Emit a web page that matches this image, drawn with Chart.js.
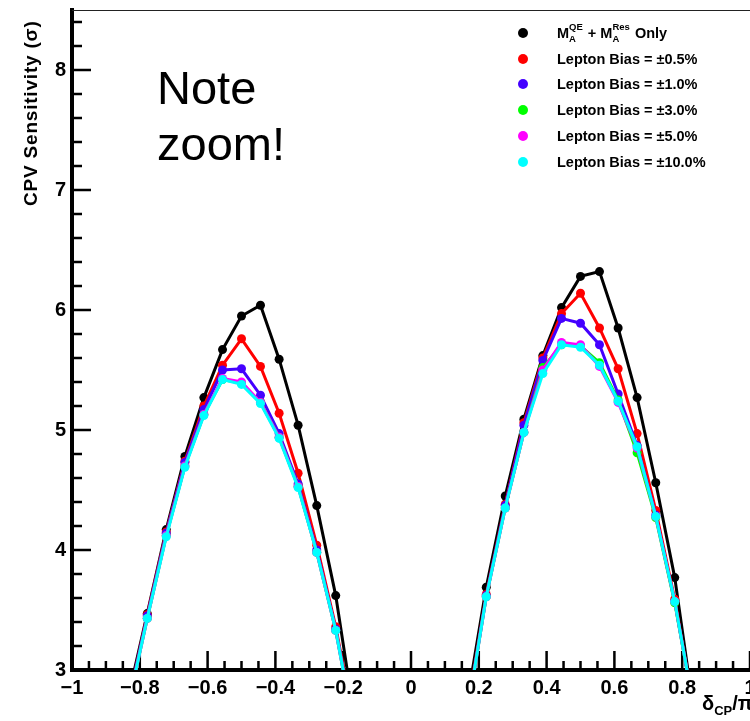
<!DOCTYPE html>
<html>
<head>
<meta charset="utf-8">
<script src="https://cdn.jsdelivr.net/npm/chart.js@4.4.0/dist/chart.umd.min.js"></script>
<style>
  body { margin: 0; background: #fff; }
  #wrap { position: relative; width: 750px; height: 721px; overflow: hidden; font-family: "Liberation Sans", Arial, sans-serif; }
  #note { position: absolute; left: 157px; top: 60px; font-size: 47px; line-height: 56px; color: #000; }
  #legend { position: absolute; left: 518px; top: 20px; font-size: 14.5px; font-weight: bold; color: #000; }
  .row { position: relative; height: 25.8px; display: flex; align-items: center; white-space: nowrap; }
  .dot { width: 10px; height: 10px; border-radius: 50%; margin-right: 29px; flex: none; }
  .ss { display: inline-flex; flex-direction: column; font-size: 9.5px; line-height: 12px; vertical-align: 8px; margin-right: 1px; }
  #ytitle { position: absolute; left: 20px; top: 206px; width: 188px; transform: rotate(-90deg); transform-origin: left top;
            font-size: 19px; line-height: 22px; font-weight: bold; letter-spacing: 0.8px; white-space: nowrap; }
  #xtitle { position: absolute; left: 702px; top: 692px; font-size: 20px; font-weight: bold; white-space: nowrap; }
  #xtitle sub { font-size: 13px; vertical-align: -5px; }
</style>
</head>
<body>
<div id="wrap">
  <canvas id="cpv" width="750" height="721"></canvas>
  <div id="note">Note<br>zoom!</div>
  <div id="legend"></div>
  <div id="ytitle">CPV Sensitivity (&sigma;)</div>
  <div id="xtitle">&delta;<sub>CP</sub>/&pi;</div>
</div>
<script>
// delta_CP / pi, 10 degree steps; the gap at 0 is below the plotted range
const deltaCP = [-0.833, -0.778, -0.722, -0.667, -0.611, -0.556, -0.5, -0.444, -0.389, -0.333, -0.278, -0.222, -0.167,
                 0,
                 0.167, 0.222, 0.278, 0.333, 0.389, 0.444, 0.5, 0.556, 0.611, 0.667, 0.722, 0.778, 0.833];

const maOnly = [2.79, 3.47, 4.17, 4.78, 5.27, 5.67, 5.95, 6.04, 5.59, 5.04, 4.37, 3.62, 2.61,
                null,
                2.76, 3.69, 4.45, 5.09, 5.62, 6.02, 6.28, 6.32, 5.85, 5.27, 4.56, 3.77, 2.68];
const bias05 = [2.74, 3.46, 4.15, 4.74, 5.20, 5.54, 5.76, 5.53, 5.14, 4.64, 4.04, 3.36, 2.55,
                null,
                2.68, 3.63, 4.38, 5.06, 5.60, 5.97, 6.14, 5.85, 5.51, 4.97, 4.33, 3.59, 2.70];
const bias10 = [2.74, 3.45, 4.14, 4.73, 5.17, 5.50, 5.51, 5.29, 4.97, 4.55, 4.00, 3.34, 2.52,
                null,
                2.66, 3.62, 4.37, 5.04, 5.58, 5.93, 5.89, 5.71, 5.30, 4.87, 4.29, 3.57, 2.70];
const bias30 = [2.72, 3.43, 4.12, 4.70, 5.13, 5.42, 5.39, 5.23, 4.94, 4.53, 3.98, 3.33, 2.50,
                null,
                2.65, 3.61, 4.35, 4.98, 5.52, 5.71, 5.70, 5.56, 5.25, 4.81, 4.27, 3.56, 2.70];
const bias50 = [2.72, 3.43, 4.12, 4.70, 5.13, 5.43, 5.40, 5.23, 4.94, 4.53, 3.98, 3.33, 2.50,
                null,
                2.65, 3.61, 4.35, 4.98, 5.50, 5.73, 5.71, 5.53, 5.23, 4.85, 4.28, 3.57, 2.70];
const bias100 = [2.72, 3.43, 4.11, 4.69, 5.12, 5.42, 5.38, 5.22, 4.93, 4.52, 3.98, 3.33, 2.50,
                 null,
                 2.65, 3.61, 4.35, 4.98, 5.47, 5.71, 5.69, 5.54, 5.24, 4.86, 4.28, 3.57, 2.70];

const seriesValues = [maOnly, bias05, bias10, bias30, bias50, bias100];
const seriesLabels = [
  'M<span class="ss"><span>QE</span><span>A</span></span> + M<span class="ss"><span>Res</span><span>A</span></span> Only',
  'Lepton Bias = &plusmn;0.5%',
  'Lepton Bias = &plusmn;1.0%',
  'Lepton Bias = &plusmn;3.0%',
  'Lepton Bias = &plusmn;5.0%',
  'Lepton Bias = &plusmn;10.0%'
];
const seriesColors = ['#000000', '#ff0000', '#4400ff', '#00ff00', '#ff00ff', '#00ffff'];

const FONT = '"Liberation Sans", Arial, sans-serif';
Chart.defaults.font.family = FONT;

// legend in html so the super/subscripts render
const legend = document.getElementById('legend');
seriesLabels.forEach((label, i) => {
  const row = document.createElement('div');
  row.className = 'row';
  row.innerHTML = '<span class="dot" style="background:' + seriesColors[i] + '"></span><span>' + label + '</span>';
  legend.appendChild(row);
});

function minusLabel(v) {
  const r = Math.round(v * 10) / 10;
  return r < 0 ? '\u2212' + Math.abs(r) : String(r);
}

// ROOT style inward ticks plus thin top frame
const axisTicks = {
  id: 'axisTicks',
  beforeDatasetsDraw(chart) {
    const { ctx, chartArea: a, scales: { x, y } } = chart;
    ctx.save();
    ctx.strokeStyle = '#000';
    ctx.lineWidth = 2.5;
    ctx.beginPath();
    for (let i = 0; i <= 40; i++) {
      const px = x.getPixelForValue(-1 + i * 0.05);
      const len = i % 4 === 0 ? 19 : 9;
      ctx.moveTo(px, a.bottom);
      ctx.lineTo(px, a.bottom - len);
    }
    for (let i = 0; i <= 27; i++) {
      const py = y.getPixelForValue(3 + i * 0.2);
      const len = i % 5 === 0 ? 19 : 10;
      ctx.moveTo(a.left, py);
      ctx.lineTo(a.left + len, py);
    }
    ctx.stroke();
    ctx.lineWidth = 1;
    ctx.strokeStyle = '#222';
    ctx.beginPath();
    ctx.moveTo(a.left, a.top + 0.5);
    ctx.lineTo(a.right, a.top + 0.5);
    ctx.stroke();
    ctx.restore();
  }
};

const datasets = seriesValues.map((vals, i) => ({
  label: seriesLabels[i],
  data: deltaCP.map((d, j) => ({ x: d, y: vals[j] })),
  borderColor: seriesColors[i],
  backgroundColor: seriesColors[i],
  borderWidth: 3,
  pointRadius: 4.5,
  pointBorderWidth: 0,
  tension: 0,
  clip: 0,
  order: seriesValues.length - i
}));

new Chart(document.getElementById('cpv'), {
  type: 'line',
  data: { datasets },
  options: {
    responsive: false,
    animation: false,
    layout: { padding: { top: 10, left: 0, right: 0, bottom: 0 }, autoPadding: false },
    plugins: { legend: { display: false }, tooltip: { enabled: false } },
    scales: {
      x: {
        type: 'linear',
        min: -1,
        max: 1,
        ticks: {
          stepSize: 0.2,
          autoSkip: false,
          maxRotation: 0,
          padding: 6,
          color: '#000',
          font: { size: 20, weight: 'bold' },
          callback: minusLabel
        },
        grid: { display: false, drawTicks: false },
        border: { display: true, width: 4, color: '#000' },
        afterFit: s => { s.height = 51; s.paddingLeft = 0; s.paddingRight = 0; }
      },
      y: {
        min: 3,
        max: 8.5,
        ticks: {
          stepSize: 1,
          includeBounds: false,
          padding: 6,
          color: '#000',
          font: { size: 20, weight: 'bold' },
          callback: v => String(v)
        },
        grid: { display: false, drawTicks: false },
        border: { display: true, width: 4, color: '#000' },
        afterFit: s => { s.width = 72; s.paddingTop = 0; s.paddingBottom = 0; }
      }
    }
  },
  plugins: [axisTicks]
});
</script>
</body>
</html>
